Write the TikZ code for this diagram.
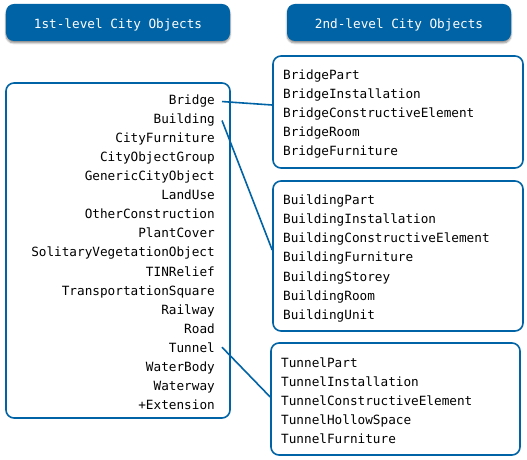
\documentclass[tikz,border=0pt]{standalone}
\usepackage{fontspec}
\setmonofont{DejaVu Sans Mono}
\usepackage{tikz}
\usetikzlibrary{shadows.blur}
\definecolor{cgblue}{HTML}{0063A5}

\begin{document}
\begin{tikzpicture}[x=1bp, y=-1bp, inner sep=0pt,
	head/.style={rounded corners=8bp, fill=cgblue, text=white, minimum width=224bp, minimum height=37bp, text height=12bp, text depth=0pt, font=\ttfamily\fontsize{12.75}{15}\selectfont, blur shadow={shadow xshift=0bp, shadow yshift=-2bp, shadow blur steps=6, shadow opacity=45}},
	frame/.style={draw=cgblue, line width=1.6bp, rounded corners=8bp},
	item/.style={inner xsep=7bp, anchor=base east, font=\ttfamily\fontsize{12.75}{15}\selectfont},
	part/.style={anchor=base west, font=\ttfamily\fontsize{12.75}{15}\selectfont},
	link/.style={draw=cgblue, line width=1.6bp}]

	\useasboundingbox (0,0) rectangle (527,460);

	% Ueberschriften
	\node[head](firsthead) at (118,22.5) {1st-level City Objects};
	\node[head](secondhead) at (399,22.5) {2nd-level City Objects};

	% Rahmen
	\node[frame, minimum width=224bp, minimum height=335bp](firstbox) at (118,250.5) {};
	\node[frame, minimum width=250bp, minimum height=112bp](bridgebox) at (398,112) {};
	\node[frame, minimum width=250bp, minimum height=150bp](buildingbox) at (398,256) {};
	\node[frame, minimum width=249bp, minimum height=112bp](tunnelbox) at (395.5,399) {};

	% 1st-level
	\node[item](bridge) at (222,105) {Bridge};
	\node[item](building) at (222,124) {Building};
	\node[item](cityfurniture) at (222,143) {CityFurniture};
	\node[item](cityobjectgroup) at (222,162) {CityObjectGroup};
	\node[item](genericcityobject) at (222,181) {GenericCityObject};
	\node[item](landuse) at (222,200) {LandUse};
	\node[item](otherconstruction) at (222,219) {OtherConstruction};
	\node[item](plantcover) at (222,238) {PlantCover};
	\node[item](solitaryvegetationobject) at (222,257) {SolitaryVegetationObject};
	\node[item](tinrelief) at (222,276) {TINRelief};
	\node[item](transportationsquare) at (222,295) {TransportationSquare};
	\node[item](railway) at (222,314) {Railway};
	\node[item](road) at (222,333) {Road};
	\node[item](tunnel) at (222,352) {Tunnel};
	\node[item](waterbody) at (222,371) {WaterBody};
	\node[item](waterway) at (222,390) {Waterway};
	\node[item](extension) at (222,409) {+Extension};

	% 2nd-level Bridge
	\node[part](bridgepart) at (283,80) {BridgePart};
	\node[part](bridgeinstallation) at (283,99) {BridgeInstallation};
	\node[part](bridgeconstructive) at (283,118) {BridgeConstructiveElement};
	\node[part](bridgeroom) at (283,137) {BridgeRoom};
	\node[part](bridgefurniture) at (283,156) {BridgeFurniture};

	% 2nd-level Building
	\node[part](buildingpart) at (283,205) {BuildingPart};
	\node[part](buildinginstallation) at (283,224) {BuildingInstallation};
	\node[part](buildingconstructive) at (283,243) {BuildingConstructiveElement};
	\node[part](buildingfurniture) at (283,262) {BuildingFurniture};
	\node[part](buildingstorey) at (283,281) {BuildingStorey};
	\node[part](buildingroom) at (283,300) {BuildingRoom};
	\node[part](buildingunit) at (283,319) {BuildingUnit};

	% 2nd-level Tunnel
	\node[part](tunnelpart) at (281,367) {TunnelPart};
	\node[part](tunnelinstallation) at (281,386) {TunnelInstallation};
	\node[part](tunnelconstructive) at (281,405) {TunnelConstructiveElement};
	\node[part](tunnelhollowspace) at (281,424) {TunnelHollowSpace};
	\node[part](tunnelfurniture) at (281,443) {TunnelFurniture};

	% Verbindungen
	\draw[link](bridge.east) -- ([yshift=7bp]bridgebox.west);
	\draw[link](building.east) -- ([yshift=6bp]buildingbox.west);
	\draw[link](tunnel.east) -- ([yshift=2bp]tunnelbox.west);
\end{tikzpicture}
\end{document}
